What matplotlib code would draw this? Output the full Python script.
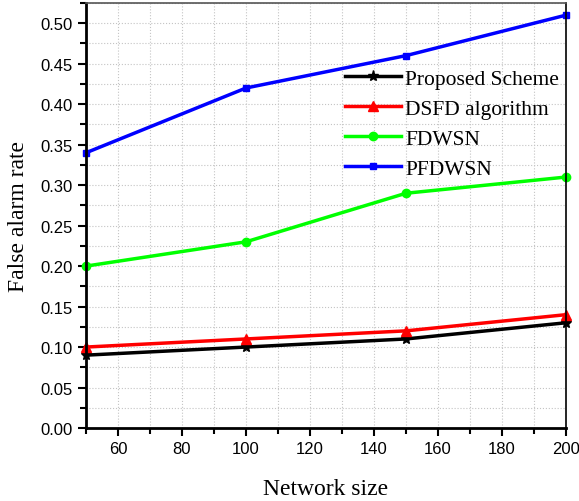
import matplotlib
matplotlib.use('Agg')
import matplotlib.pyplot as plt
from matplotlib.ticker import MultipleLocator

network_size = [50, 100, 150, 200]
proposed = [0.09, 0.10, 0.11, 0.13]
dsfd = [0.10, 0.11, 0.12, 0.14]
fdwsn = [0.20, 0.23, 0.29, 0.31]
pfdwsn = [0.34, 0.42, 0.46, 0.51]

fig = plt.figure(figsize=(5.79, 5.02), dpi=100)
ax = fig.add_axes([86 / 579, 1 - 429 / 502, 480 / 579, 425 / 502])

ax.plot(network_size, proposed, color='black', marker='*', ms=8, lw=2.5, label='Proposed Scheme', clip_on=False)
ax.plot(network_size, dsfd, color='red', marker='^', ms=7, lw=2.5, label='DSFD algorithm', clip_on=False)
ax.plot(network_size, fdwsn, color='#00ff00', marker='o', ms=6, lw=2.5, label='FDWSN', clip_on=False)
ax.plot(network_size, pfdwsn, color='blue', marker='s', ms=5, lw=2.5, label='PFDWSN', clip_on=False)

ax.set_xlim(50, 200)
ax.set_ylim(0, 0.525)
ax.xaxis.set_minor_locator(MultipleLocator(10))
ax.yaxis.set_minor_locator(MultipleLocator(0.025))
ax.set_yticks([0.0, 0.05, 0.10, 0.15, 0.20, 0.25, 0.30, 0.35, 0.40, 0.45, 0.50])
ax.set_xticks([60, 80, 100, 120, 140, 160, 180, 200])
ax.yaxis.set_major_formatter(matplotlib.ticker.FormatStrFormatter('%.2f'))

ax.grid(True, which='both', color='#c4c4c4', ls=':', lw=0.8)
ax.tick_params(which='both', direction='out', width=1.5, labelsize=12)
ax.tick_params(which='major', length=6)
ax.tick_params(which='minor', length=4)
for lab in ax.get_xticklabels() + ax.get_yticklabels():
    lab.set_fontfamily('Liberation Sans')

ax.spines['left'].set_linewidth(2)
ax.spines['bottom'].set_linewidth(2)
ax.spines['right'].set_linewidth(1.2)
ax.spines['top'].set_linewidth(1.2)
ax.spines['top'].set_color('#555555')

ax.set_xlabel('Network size', fontfamily='Liberation Serif', fontsize=17, labelpad=16)
ax.set_ylabel('False alarm rate', fontfamily='Liberation Serif', fontsize=17, labelpad=8)

ax.legend(loc='upper left', bbox_to_anchor=(0.54, 0.845), frameon=False,
          prop={'family': 'Liberation Serif', 'size': 15.5}, handlelength=2.6,
          handletextpad=0.2, labelspacing=0.46, borderaxespad=0, borderpad=0)

fig.savefig('out.png', dpi=100)
